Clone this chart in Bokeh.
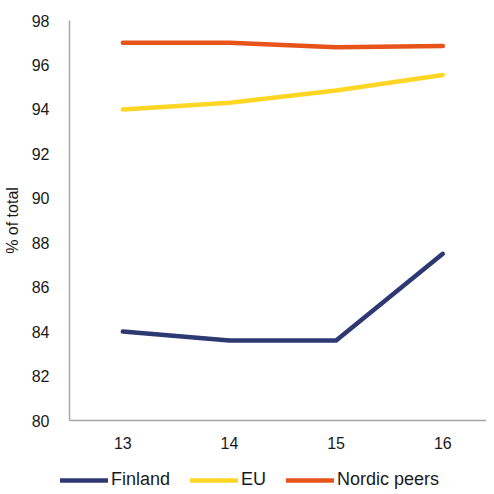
from bokeh.plotting import figure
from bokeh.models import Legend, LegendItem, FixedTicker, Spacer
from bokeh.layouts import column, row
from bokeh.embed import file_html
from bokeh.resources import INLINE

years = [13, 14, 15, 16]
finland = [84.0, 83.6, 83.6, 87.5]
eu = [94.0, 94.3, 94.85, 95.55]
nordic = [97.0, 97.0, 96.8, 96.85]
y_ticks = [80, 82, 84, 86, 88, 90, 92, 94, 96, 98]
series_names = ["Finland", "EU", "Nordic peers"]

colors = {"Finland": "#2E3872", "EU": "#FFD624", "Nordic peers": "#E8531C"}

p = figure(width=486, height=470, output_backend="svg", toolbar_location=None,
           x_range=(12.5, 16.41), y_range=(80, 98),
           min_border_top=20, min_border_right=0, min_border_left=68,
           min_border_bottom=50)
p.outline_line_color = None
p.grid.visible = False

font = "Liberation Sans"
for ax in (p.xaxis[0], p.yaxis[0]):
    ax.axis_line_color = "#A6A6A6"
    ax.axis_line_width = 1.5
    ax.major_tick_line_color = None
    ax.minor_tick_line_color = None
    ax.major_label_text_font = font
    ax.major_label_text_font_size = "16px"
    ax.major_label_text_color = "#1a1a1a"
p.xaxis.ticker = FixedTicker(ticks=years)
p.yaxis.ticker = FixedTicker(ticks=y_ticks)
p.xaxis.major_label_standoff = 10
p.yaxis.major_label_standoff = 14
p.yaxis.axis_label = "% of total"
p.yaxis.axis_label_text_font = font
p.yaxis.axis_label_text_font_size = "16px"
p.yaxis.axis_label_text_font_style = "normal"
p.yaxis.axis_label_text_color = "#1a1a1a"
p.yaxis.axis_label_standoff = 8

series = {"Finland": finland, "EU": eu, "Nordic peers": nordic}
for name in series_names:
    p.line(years, series[name], line_color=colors[name], line_width=4.5,
           line_cap="round", line_join="round")

# legend strip below the chart
lg = figure(width=420, height=20, output_backend="svg", toolbar_location=None,
            x_range=(0, 1), y_range=(0, 1), min_border=0)
lg.axis.visible = False
lg.grid.visible = False
lg.outline_line_color = None
items = []
for name in series_names:
    r = lg.line([-10, -9], [-10, -10], line_color=colors[name], line_width=4.5, line_cap="round")
    items.append(LegendItem(label=name, renderers=[r]))
legend = Legend(items=items, orientation="horizontal", location=(0, 0),
                label_text_font=font, label_text_font_size="18px",
                label_text_color="#1a1a1a",
                glyph_width=48, glyph_height=20, spacing=20, label_standoff=3,
                border_line_color=None, background_fill_alpha=0, padding=0, margin=0)
lg.add_layout(legend, "center")

layout = column(p, row(Spacer(width=60, height=20), lg, spacing=0), spacing=0)
open("out.html", "w").write(file_html(layout, INLINE))
